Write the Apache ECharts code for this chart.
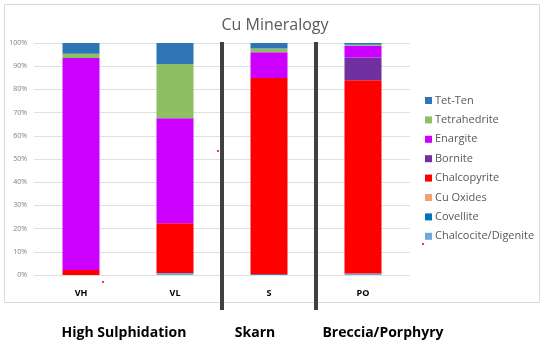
<!DOCTYPE html>
<html>
<head>
<meta charset="utf-8">
<script src="https://cdn.jsdelivr.net/npm/echarts@6/dist/echarts.min.js"></script>
<style>
  html, body { margin: 0; padding: 0; background: #fff; }
</style>
</head>
<body>
<div id="main" style="width:550px;height:351px"></div>
<script type="text/javascript">
	var categories = ['VH', 'VL', 'S', 'PO'];
	var groupNames = ['High Sulphidation', 'Skarn', 'Breccia/Porphyry'];
	var groupLast = [1, 2, 3]; // index of last category in each group
	// values in %, stacked from the bottom up
	var chalcocite   = [0,    0.9,  0,    0.7];
	var covellite    = [0,    0,    0.3,  0];
	var cuOxides     = [0,    0,    0,    0];
	var chalcopyrite = [2.2,  21.4, 84.6, 83.2];
	var bornite      = [0,    0,    0,    9.9];
	var enargite     = [91.3, 45.3, 11.1, 5.0];
	var tetrahedrite = [1.9,  23.3, 1.6,  0.4];
	var tetTen       = [4.6,  9.1,  2.4,  0.8];

	var seriesDef = [
		{ name: 'Chalcocite/Digenite', data: chalcocite,   color: '#6FA8DC' },
		{ name: 'Covellite',           data: covellite,    color: '#0070C0' },
		{ name: 'Cu Oxides',           data: cuOxides,     color: '#F4A070' },
		{ name: 'Chalcopyrite',        data: chalcopyrite, color: '#FF0000' },
		{ name: 'Bornite',             data: bornite,      color: '#7030A0' },
		{ name: 'Enargite',            data: enargite,     color: '#CC00FF' },
		{ name: 'Tetrahedrite',        data: tetrahedrite, color: '#8DC063' },
		{ name: 'Tet-Ten',             data: tetTen,       color: '#2E75B6' }
	];

	var myChart = echarts.init(document.getElementById('main'));

	var series = seriesDef.map(function (s) {
		return {
			name: s.name,
			type: 'bar',
			stack: 'total',
			barWidth: 37,
			itemStyle: { color: s.color },
			data: s.data
		};
	});

	var option = {
		animation: false,
		backgroundColor: '#fff',
		title: {
			text: 'Cu Mineralogy',
			left: 'center',
			top: 12,
			textStyle: { fontFamily: 'Open Sans', fontSize: 16, fontWeight: 'normal', color: '#595959' }
		},
		legend: {
			orient: 'vertical',
			left: 420,
			top: 90,
			itemWidth: 7,
			itemHeight: 7,
			itemGap: 8.4,
			icon: 'rect',
			data: seriesDef.map(function (s) { return s.name; }).reverse(),
			textStyle: { fontFamily: 'Open Sans', fontSize: 11, color: '#595959', padding: [0, 0, 0, -2] }
		},
		grid: { left: 34, right: 140, top: 43, bottom: 76 },
		xAxis: {
			type: 'category',
			data: categories,
			axisLine: { show: false },
			axisTick: { show: false },
			axisLabel: { margin: 14, fontSize: 9, fontWeight: 'bold', color: '#000', fontFamily: 'Open Sans' }
		},
		yAxis: {
			type: 'value',
			min: 0,
			max: 100,
			interval: 10,
			axisLabel: { formatter: '{value}%', fontSize: 7, color: '#808080', margin: 7, fontFamily: 'Open Sans' },
			splitLine: { lineStyle: { color: '#E0E0E0' } },
			axisLine: { show: false },
			axisTick: { show: false }
		},
		series: series
	};
	myChart.setOption(option);

	// decorations: chart frame, group separators, group names
	var px = function (i) { return myChart.convertToPixel({ xAxisIndex: 0 }, categories[i]); };
	var groupLabelX = [124, 255, 383];
	var graphics = [
		{ type: 'rect', shape: { x: 4.5, y: 4.5, width: 535, height: 298 }, style: { fill: 'none', stroke: '#D9D9D9', lineWidth: 1 }, z: -1 }
	];
	for (var g = 0; g < groupLast.length - 1; g++) {
		var sx = (px(groupLast[g]) + px(groupLast[g] + 1)) / 2;
		graphics.push({ type: 'line', shape: { x1: sx, y1: 42, x2: sx, y2: 310 }, style: { stroke: '#404040', lineWidth: 4 }, z: 10 });
	}
	groupNames.forEach(function (name, i) {
		graphics.push({
			type: 'text', x: groupLabelX[i], y: 333,
			style: { text: name, font: 'bold 14px "Open Sans"', fill: '#000', align: 'center', verticalAlign: 'middle' }
		});
	});
	// stray red specks from the original image
	[[218, 151], [103, 282], [423, 244]].forEach(function (p) {
		graphics.push({ type: 'circle', shape: { cx: p[0], cy: p[1], r: 1 }, style: { fill: '#E00000' } });
	});
	myChart.setOption({ graphic: graphics });
</script>
</body>
</html>
